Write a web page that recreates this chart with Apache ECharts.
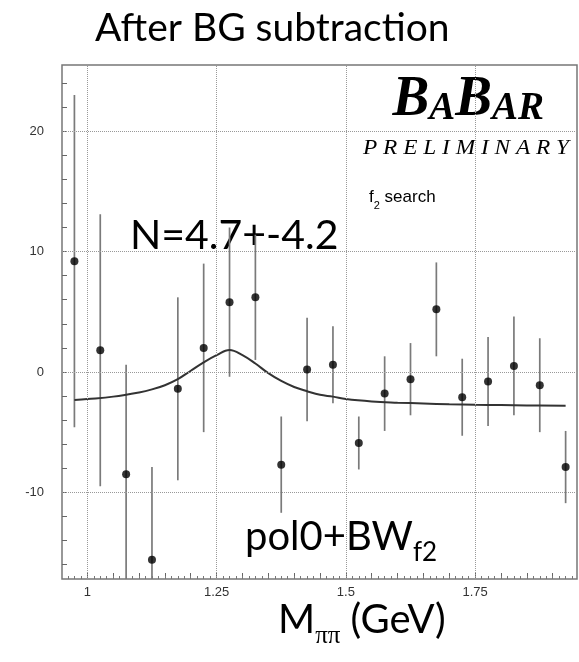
<!DOCTYPE html>
<html>
<head>
<meta charset="utf-8">
<script src="https://cdn.jsdelivr.net/npm/echarts@6/dist/echarts.min.js"></script>
<style>
  html, body { margin: 0; padding: 0; background: #fff; }
  #main { width: 579px; height: 662px; }
</style>
</head>
<body>
<div id="main"></div>
<script>
// bin centres (GeV), yields after BG subtraction and their errors
var massBins = [0.975, 1.025, 1.075, 1.125, 1.175, 1.225, 1.275, 1.325, 1.375, 1.425,
                1.475, 1.525, 1.575, 1.625, 1.675, 1.725, 1.775, 1.825, 1.875, 1.925];
var yields = [9.2, 1.8, -8.5, -15.6, -1.4, 2.0, 5.8, 6.2, -7.7, 0.2,
              0.6, -5.9, -1.8, -0.6, 5.2, -2.1, -0.8, 0.5, -1.1, -7.9];
var yieldErr = [13.8, 11.3, 9.1, 7.7, 7.6, 7.0, 6.2, 5.2, 4.0, 4.3,
                3.2, 2.2, 3.1, 3.0, 3.9, 3.2, 3.7, 4.1, 3.9, 3.0];

// fitted pol0+BW curve
var fitX = [0.975, 1.0, 1.05, 1.1, 1.125, 1.15, 1.175, 1.2, 1.225, 1.25, 1.275, 1.3, 1.325,
            1.35, 1.375, 1.4, 1.425, 1.45, 1.475, 1.5, 1.55, 1.6, 1.65, 1.7, 1.75, 1.8, 1.85, 1.925];
var fitY = [-2.33, -2.25, -2.05, -1.7, -1.45, -1.1, -0.6, 0.1, 0.8, 1.4, 1.83, 1.4, 0.7,
            -0.1, -0.75, -1.25, -1.6, -1.9, -2.05, -2.25, -2.45, -2.55, -2.62, -2.68, -2.72, -2.75, -2.78, -2.8];

var xLabels = [1, 1.25, 1.5, 1.75];
var yLabels = [-10, 0, 10, 20];

var xMin = 0.951, xMax = 1.947;
var yMin = -17.2, yMax = 25.5;

var xMid = [], xSmall = [], yMinor = [];
for (var i = 0; i <= 20; i++) xMid.push(+(0.95 + i * 0.05).toFixed(3));
for (var i = 0; i <= 79; i++) xSmall.push(+(0.95 + i * 0.0125).toFixed(4));
for (var v = -16; v <= 24; v += 2) yMinor.push(v);

var points = [], bars = [], fit = [];
for (var i = 0; i < massBins.length; i++) {
    points.push([massBins[i], yields[i]]);
    bars.push([massBins[i], yields[i] - yieldErr[i], yields[i] + yieldErr[i]]);
}
for (var j = 0; j < fitX.length; j++) fit.push([fitX[j], fitY[j]]);

var gridLines = [];
xLabels.forEach(function (x) { gridLines.push({ xAxis: x }); });
yLabels.forEach(function (y) { gridLines.push({ yAxis: y }); });

var myChart = echarts.init(document.getElementById('main'));

var tickFont = { color: '#333', fontSize: 13, fontFamily: 'Liberation Sans' };

option = {
    animation: false,
    grid: {
        left: 62, right: 2, top: 65, bottom: 83,
        show: true, borderColor: '#777', borderWidth: 1.5, backgroundColor: '#fff'
    },
    xAxis: [{
        type: 'value', min: xMin, max: xMax, position: 'bottom',
        axisLine: { show: false, onZero: false },
        splitLine: { show: false },
        axisTick: { show: true, inside: true, length: 6, customValues: xMid, lineStyle: { color: '#666' } },
        axisLabel: Object.assign({ customValues: xLabels, margin: 7 }, tickFont)
    }, {
        type: 'value', min: xMin, max: xMax, position: 'bottom',
        axisLine: { show: false, onZero: false },
        splitLine: { show: false },
        axisTick: { show: true, inside: true, length: 3, customValues: xSmall, lineStyle: { color: '#777' } },
        axisLabel: { show: false }
    }],
    yAxis: [{
        type: 'value', min: yMin, max: yMax,
        axisLine: { show: false, onZero: false },
        splitLine: { show: false },
        axisTick: { show: true, inside: true, length: 5, customValues: yMinor, lineStyle: { color: '#666' } },
        axisLabel: Object.assign({ customValues: yLabels, margin: 18 }, tickFont)
    }],
    series: [{
        type: 'custom',
        xAxisIndex: 0,
        data: bars,
        z: 3,
        renderItem: function (params, api) {
            var lo = Math.max(api.value(1), yMin);
            var hi = Math.min(api.value(2), yMax);
            var p1 = api.coord([api.value(0), lo]);
            var p2 = api.coord([api.value(0), hi]);
            return {
                type: 'line',
                shape: { x1: p1[0], y1: p1[1], x2: p2[0], y2: p2[1] },
                style: { stroke: '#7a7a7a', lineWidth: 1.7 }
            };
        }
    }, {
        type: 'line',
        data: fit,
        smooth: 0.4,
        showSymbol: false,
        z: 4,
        lineStyle: { color: '#333', width: 2 },
        markLine: {
            silent: true,
            symbol: 'none',
            label: { show: false },
            lineStyle: { color: '#999', type: 'dotted', width: 1 },
            data: gridLines
        }
    }, {
        type: 'scatter',
        data: points,
        symbol: 'circle',
        symbolSize: 8,
        z: 5,
        itemStyle: { color: '#000' }
    }],
    graphic: [{
        type: 'text', left: 95, top: 9,
        style: { text: 'After BG subtraction', font: '39px Lato', fill: '#000' }
    }, {
        type: 'text', left: 130, top: 215,
        style: { text: 'N=4.7+-4.2', font: '41px Lato', fill: '#000' }
    }, {
        type: 'text', left: 245, top: 517,
        style: {
            text: '{m|pol0+BW}{s|f2}',
            rich: {
                m: { font: '40px Lato', fill: '#000', verticalAlign: 'bottom' },
                s: { font: '26px Lato', fill: '#000', verticalAlign: 'bottom', padding: [0, 0, -9, 0] }
            }
        }
    }, {
        type: 'text', left: 278, top: 600,
        style: {
            text: '{m|M}{s|ππ}{m| (GeV)}',
            rich: {
                m: { font: '40px Lato', fill: '#000', verticalAlign: 'bottom' },
                s: { font: '25px "Liberation Serif"', fill: '#000', verticalAlign: 'bottom', padding: [0, 0, -9, 0] }
            }
        }
    }, {
        type: 'text', x: 544, y: 129, scaleX: 0.95,
        style: {
            text: '{b|B}{a|A}{b|B}{a|AR}',
            align: 'right', verticalAlign: 'bottom',
            rich: {
                b: { font: 'italic bold 58px "Liberation Serif"', fill: '#000', verticalAlign: 'bottom' },
                a: { font: 'italic bold 41px "Liberation Serif"', fill: '#000', verticalAlign: 'bottom' }
            }
        }
    }, {
        type: 'text', x: 569, y: 137, scaleX: 1.06,
        style: { text: 'P R E L I M I N A R Y', font: 'italic 22px "Liberation Serif"', fill: '#000', align: 'right' }
    }, {
        type: 'text', left: 369, top: 189,
        style: {
            text: '{n|f}{s|2}{n| search}',
            rich: {
                n: { font: '17px "Liberation Sans"', fill: '#000', verticalAlign: 'bottom' },
                s: { font: '11px "Liberation Sans"', fill: '#000', verticalAlign: 'bottom', padding: [0, 0, -5, 0] }
            }
        }
    }]
};

myChart.setOption(option);
</script>
</body>
</html>
